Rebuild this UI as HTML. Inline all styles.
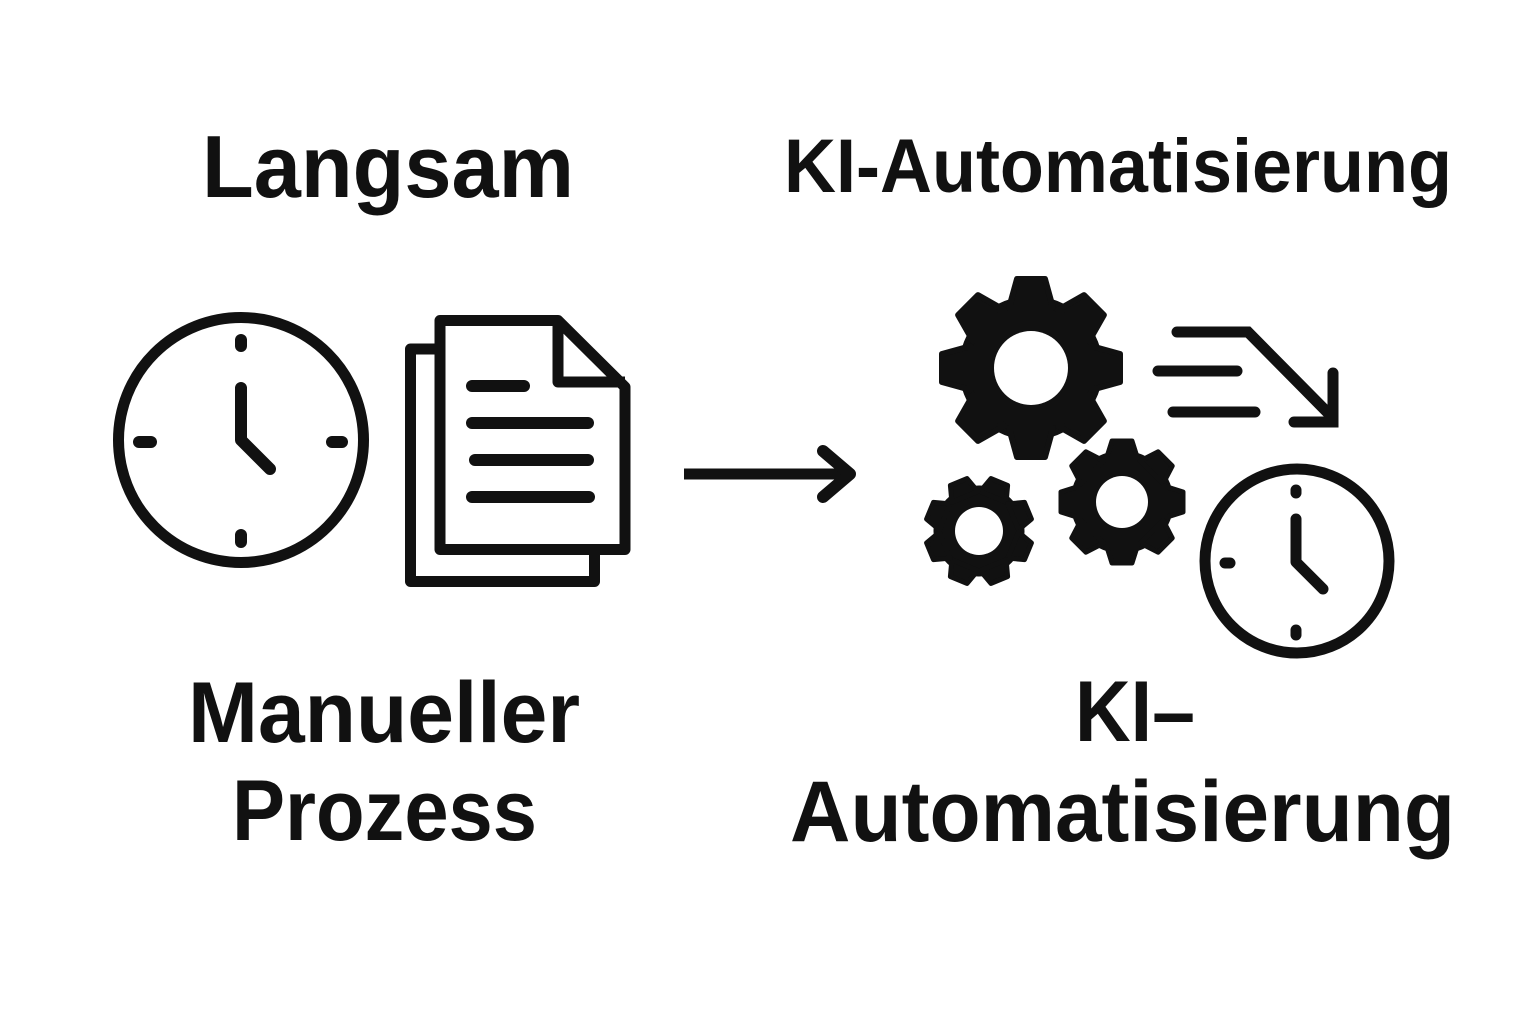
<!DOCTYPE html>
<html>
<head>
<meta charset="utf-8">
<style>
  html,body{margin:0;padding:0;background:#fff;}
  body{width:1536px;height:1024px;overflow:hidden;}
  svg{display:block;}
  text{font-family:"Liberation Sans", Arial, sans-serif;font-weight:bold;fill:#111;}
</style>
</head>
<body>
<svg width="1536" height="1024" viewBox="0 0 1536 1024" xmlns="http://www.w3.org/2000/svg">
  <rect width="1536" height="1024" fill="#ffffff"/>

  <!-- Titles -->
  <text x="202" y="197" font-size="88" textLength="372" lengthAdjust="spacingAndGlyphs">Langsam</text>
  <text x="784" y="192" font-size="76" textLength="668" lengthAdjust="spacingAndGlyphs">KI-Automatisierung</text>

  <!-- Left clock -->
  <g fill="none" stroke="#111" stroke-linecap="round" stroke-linejoin="round">
    <circle cx="241" cy="440" r="122.5" stroke-width="11"/>
    <line x1="241" y1="340" x2="241" y2="346" stroke-width="12"/>
    <line x1="241" y1="535" x2="241" y2="542" stroke-width="12"/>
    <line x1="139" y1="442" x2="151" y2="442" stroke-width="12"/>
    <line x1="332" y1="442" x2="342" y2="442" stroke-width="12"/>
    <polyline points="241,388 241,440 270,469" stroke-width="12"/>
  </g>

  <!-- Documents -->
  <g fill="none" stroke="#111" stroke-width="11" stroke-linejoin="round">
    <path d="M440 349 H410.5 V581.5 H594.5 V549"/>
    <path d="M440 320.5 H558 L625 387 V549.5 H440 Z" fill="#fff"/>
    <path d="M558 320.5 V382 H625"/>
  </g>
  <g stroke="#111" stroke-width="12" stroke-linecap="round">
    <line x1="472" y1="386" x2="524" y2="386"/>
    <line x1="472" y1="423" x2="588" y2="423"/>
    <line x1="475" y1="460" x2="588" y2="460"/>
    <line x1="472" y1="497" x2="589" y2="497"/>
  </g>

  <!-- Middle arrow -->
  <line x1="684" y1="474" x2="848" y2="474" stroke="#111" stroke-width="11"/>
  <polyline points="823,451 850,474 823,497" fill="none" stroke="#111" stroke-width="12" stroke-linecap="round" stroke-linejoin="round"/>

  <!-- Big gear -->
  <g transform="translate(1031,368)" fill="#111" stroke="#111" stroke-width="6" stroke-linejoin="round">
    <circle r="69"/>
    <polygon points="-22,-60 22,-60 14,-89 -14,-89" transform="rotate(0)"/>
    <polygon points="-22,-60 22,-60 14,-89 -14,-89" transform="rotate(45)"/>
    <polygon points="-22,-60 22,-60 14,-89 -14,-89" transform="rotate(90)"/>
    <polygon points="-22,-60 22,-60 14,-89 -14,-89" transform="rotate(135)"/>
    <polygon points="-22,-60 22,-60 14,-89 -14,-89" transform="rotate(180)"/>
    <polygon points="-22,-60 22,-60 14,-89 -14,-89" transform="rotate(225)"/>
    <polygon points="-22,-60 22,-60 14,-89 -14,-89" transform="rotate(270)"/>
    <polygon points="-22,-60 22,-60 14,-89 -14,-89" transform="rotate(315)"/>
    <circle r="37" fill="#fff" stroke="none"/>
  </g>

  <!-- Medium gear -->
  <g transform="translate(1122,502)" fill="#111" stroke="#111" stroke-width="5" stroke-linejoin="round">
    <circle r="49"/>
    <polygon points="-16,-42 16,-42 10,-61 -10,-61" transform="rotate(0)"/>
    <polygon points="-16,-42 16,-42 10,-61 -10,-61" transform="rotate(45)"/>
    <polygon points="-16,-42 16,-42 10,-61 -10,-61" transform="rotate(90)"/>
    <polygon points="-16,-42 16,-42 10,-61 -10,-61" transform="rotate(135)"/>
    <polygon points="-16,-42 16,-42 10,-61 -10,-61" transform="rotate(180)"/>
    <polygon points="-16,-42 16,-42 10,-61 -10,-61" transform="rotate(225)"/>
    <polygon points="-16,-42 16,-42 10,-61 -10,-61" transform="rotate(270)"/>
    <polygon points="-16,-42 16,-42 10,-61 -10,-61" transform="rotate(315)"/>
    <circle r="26" fill="#fff" stroke="none"/>
  </g>

  <!-- Small gear -->
  <g transform="translate(979,531) rotate(22.5)" fill="#111" stroke="#111" stroke-width="5" stroke-linejoin="round">
    <circle r="43"/>
    <polygon points="-14,-37 14,-37 9,-53 -9,-53" transform="rotate(0)"/>
    <polygon points="-14,-37 14,-37 9,-53 -9,-53" transform="rotate(45)"/>
    <polygon points="-14,-37 14,-37 9,-53 -9,-53" transform="rotate(90)"/>
    <polygon points="-14,-37 14,-37 9,-53 -9,-53" transform="rotate(135)"/>
    <polygon points="-14,-37 14,-37 9,-53 -9,-53" transform="rotate(180)"/>
    <polygon points="-14,-37 14,-37 9,-53 -9,-53" transform="rotate(225)"/>
    <polygon points="-14,-37 14,-37 9,-53 -9,-53" transform="rotate(270)"/>
    <polygon points="-14,-37 14,-37 9,-53 -9,-53" transform="rotate(315)"/>
    <circle r="24" fill="#fff" stroke="none"/>
  </g>

  <!-- Speed lines / arrow -->
  <g fill="none" stroke="#111" stroke-width="11" stroke-linecap="round">
    <path d="M1177 332 H1248 L1330 415" stroke-linejoin="miter"/>
    <path d="M1333 373 V422 H1294" stroke-linejoin="miter"/>
    <line x1="1158" y1="371" x2="1237" y2="371"/>
    <line x1="1173" y1="412" x2="1255" y2="412"/>
  </g>

  <!-- Right clock -->
  <g fill="none" stroke="#111" stroke-linecap="round" stroke-linejoin="round">
    <circle cx="1297" cy="561" r="92" stroke-width="11"/>
    <line x1="1296" y1="490" x2="1296" y2="493" stroke-width="11"/>
    <line x1="1296" y1="630" x2="1296" y2="635" stroke-width="11"/>
    <line x1="1225" y1="563" x2="1230" y2="563" stroke-width="11"/>
    <polyline points="1296,519 1296,562 1323,589" stroke-width="11"/>
  </g>

  <!-- Bottom labels -->
  <text x="188" y="742" font-size="86" textLength="392" lengthAdjust="spacingAndGlyphs">Manueller</text>
  <text x="232" y="840" font-size="86" textLength="305" lengthAdjust="spacingAndGlyphs">Prozess</text>
  <text x="1075" y="741" font-size="86" textLength="120" lengthAdjust="spacingAndGlyphs">KI–</text>
  <text x="790" y="841" font-size="86" textLength="665" lengthAdjust="spacingAndGlyphs">Automatisierung</text>
</svg>
</body>
</html>
